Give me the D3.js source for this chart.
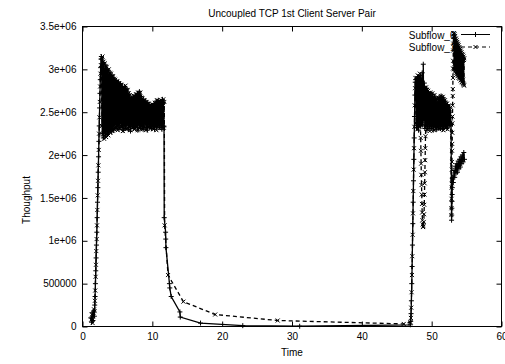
<!DOCTYPE html>
<html><head><meta charset="utf-8">
<script src="https://cdn.jsdelivr.net/npm/d3@7"></script>
<style>
html,body{margin:0;padding:0;background:#fff;}
svg{display:block;}
text{font-family:"Liberation Sans",Arial,Helvetica,sans-serif;font-size:10px;fill:#000;}
</style>
</head><body>
<svg id="chart" width="505" height="364"></svg>
<script>
// ---------------- DATA (throughput values in units of 10 000) ----------------
const valueUnit = 1e4;
const chartTitle = "Uncoupled TCP 1st Client Server Pair";
const xLabel = "Time";
const yLabel = "Thoughput";
const seriesNames = ["Subflow_0", "Subflow_1"];

const xTicks = [0, 10, 20, 30, 40, 50, 60];
const xTickLabels = ["0", "10", "20", "30", "40", "50", "60"];
const yTicks = [0, 500000, 1000000, 1500000, 2000000, 2500000, 3000000, 3500000];
const yTickLabels = ["0", "500000", "1e+06", "1.5e+06", "2e+06", "2.5e+06", "3e+06", "3.5e+06"];

// ---- Subflow_0 ----
const s0RiseTimes  = [1.2,1.3,1.4,1.5,1.6,1.7,1.75,1.8,1.85,1.9,1.95,2.0,2.05,2.1,2.15,2.2,2.25,2.3,2.35,2.4,2.45,2.5,2.55,2.6,2.65,2.7];
const s0RiseValues = [10,5,16,7,18,12,25,35,50,65,80,95,110,127,145,162,180,198,216,234,255,272,288,302,312,315];
// first busy period: alternating peaks and troughs every 0.075 s
const s0Band1Start = 2.75, s0Band1Step = 0.075;
const s0Band1Peaks = [312,307,308,301,304,300,299,294,296,290, 293,288,289,284,287,283,285,281,283,278,
  280,276,280,277,277,271,271,265,267,264, 268,266,270,268,272,270,274,268,268,263,
  265,261,263,259,261,257,259,255,258,256, 260,258,263,261,264,260,262,260,265,261];
const s0Band1Troughs = [225,220,228,222,230,224,226,229,232,227, 234,229,236,231,233,235,230,237,232,234,
  229,236,231,235,237,230,234,228,236,233, 231,238,232,235,229,237,234,231,236,230,
  233,238,232,229,235,233,237,231,235,234, 230,236,233,234,237,232,235,230,234,233];
const s0DecayTimes  = [11.7,11.9,11.92,11.95,12.45,12.5,12.7,13.95,14.0,16.9,22.95,31.1];
const s0DecayValues = [127,110,102,92,50,45,35,17,11,4,1,0.3];
const s0Rise2Times  = [46.95,47.0,47.05,47.1,47.15,47.2,47.25,47.3,47.35,47.4,47.45,47.5,47.55,47.6,47.65];
const s0Rise2Values = [2,6,15,30,50,70,95,120,145,170,195,220,245,270,285];
const s0Band2Start = 47.75, s0Band2Step = 0.075;
const s0Band2Peaks = [288,285,291,288,293,290,296,306,284,278, 278,272,273,268,272,267,271,266,268,261,
  265,261,267,264,269,265,267,262,263,258, 259,254,256,250];
const s0Band2Troughs = [232,238,229,236,234,236,235,240,231,234, 229,235,233,236,231,234,229,235,233,230,
  235,232,236,231,235,230,236,233,234,231, 236,234,235,237];
const s0AfterTimes  = [52.85,52.87,52.89,52.91,52.93,52.95,52.97,53.0,53.1,53.2,53.3,53.4,53.5,53.6,53.7,53.8,53.9,54.0,54.1,54.2,54.3,54.4,54.5,54.6,54.7];
const s0AfterValues = [124,130,138,146,154,162,168,174,168,182,174,187,179,190,180,193,184,195,186,198,190,200,192,203,195];

// ---- Subflow_1 ----
const s1RiseTimes  = [1.25,1.35,1.45,1.55,1.65,1.725,1.775,1.825,1.875,1.925,1.975,2.025,2.075,2.125,2.175,2.225,2.275,2.325,2.375,2.425,2.475,2.525,2.575,2.625,2.7];
const s1RiseValues = [8,14,4,12,20,18,30,42,58,72,88,102,118,136,153,170,188,206,225,244,262,280,295,305,290];
const s1Band1Start = 2.7875, s1Band1Step = 0.075;
const s1Band1Troughs = [234,224,219,227,221,229,223,231,226,232, 228,234,230,236,232,229,235,231,237,233,
  228,235,233,230,238,231,234,229,236,232, 234,230,238,233,229,236,231,234,235,230,
  233,237,229,234,232,236,231,233,237,230, 234,233,229,236,234,231,237,233,235,232];
const s1Band1Peaks = [315,309,307,304,303,299,300,296,295,292, 292,289,288,286,286,284,284,282,282,279,
  279,278,281,276,276,272,270,267,266,265, 269,267,271,269,273,271,273,267,266,264,
  264,262,262,260,260,258,258,257,259,258, 261,259,264,262,263,261,264,262,265,262];
const s1DecayTimes  = [11.76,12.25,14.45,19.0,27.95,46.0];
const s1DecayValues = [118,60,29,14,7,3];
const s1Rise2Times  = [46.97,47.025,47.075,47.125,47.175,47.225,47.275,47.325,47.375,47.425,47.475,47.525,47.575,47.625,47.675];
const s1Rise2Values = [5,10,22,40,60,82,107,132,158,183,208,233,258,278,290];
const s1Band2aStart = 47.7875, s1Band2aStep = 0.075;
const s1Band2aTroughs = [236,230,234,233,236];
const s1Band2aPeaks = [290,293,292,295];
const s1DipTimes  = [48.43,48.46,48.49,48.52,48.55,48.58,48.61,48.64,48.68,48.72,48.77,48.82,48.87,48.91,48.94,48.97,49.0,49.03,49.06,49.09,49.12,49.15];
const s1DipValues = [220,205,190,177,165,154,143,133,124,119,116,117,122,131,142,154,167,180,194,208,222,236];
const s1Band2bStart = 49.2, s1Band2bStep = 0.075;
const s1Band2bPeaks = [279,276,275,271,273,269,272,268,270,264, 266,262,267,264,269,266,268,263,264,260, 260,256,257,253];
const s1Band2bTroughs = [234,230,236,228,235,232,236,229,233,235, 231,236,230,235,233,236,229,235,232,234, 230,235,236,238];
const s1ClimbStart = 52.82, s1ClimbStep = 0.015;
const s1ClimbValues = [130,138,149,162,171,183,192,205,213,226,237,245,258,269,277,290,301,310,322,330,338,342];
const s1Band3Start = 53.17, s1Band3Step = 0.025;
const s1Band3Peaks = [342,338,341,335,339,333,336,331,334,329, 332,327,330,325,328,323,326,321,324,319,
  322,317,320,316,318,314,317,312,315,311, 313];
const s1Band3Troughs = [300,306,297,304,299,302,296,300,294,298, 292,297,295,290,296,293,289,294,291,287,
  292,288,285,290,286,284,288,283,282,281];

// ---------------- BUILD ----------------
const pairs = (ts, vs) => ts.map((t, i) => [t, vs[i] * valueUnit]);
const band = (start, step, vs) => vs.map((v, i) => [start + i * step, v * valueUnit]);
function zigzag(start, step, first, second) {
  const out = [];
  first.forEach((v, i) => {
    out.push([start + 2 * i * step, v * valueUnit]);
    if (i < second.length) out.push([start + (2 * i + 1) * step, second[i] * valueUnit]);
  });
  return out;
}

const series0 = [].concat(
  pairs(s0RiseTimes, s0RiseValues),
  zigzag(s0Band1Start, s0Band1Step, s0Band1Peaks, s0Band1Troughs),
  pairs(s0DecayTimes, s0DecayValues),
  pairs(s0Rise2Times, s0Rise2Values),
  zigzag(s0Band2Start, s0Band2Step, s0Band2Peaks, s0Band2Troughs),
  pairs(s0AfterTimes, s0AfterValues)
);
const series1 = [].concat(
  pairs(s1RiseTimes, s1RiseValues),
  zigzag(s1Band1Start, s1Band1Step, s1Band1Troughs, s1Band1Peaks),
  pairs(s1DecayTimes, s1DecayValues),
  pairs(s1Rise2Times, s1Rise2Values),
  zigzag(s1Band2aStart, s1Band2aStep, s1Band2aTroughs, s1Band2aPeaks),
  pairs(s1DipTimes, s1DipValues),
  zigzag(s1Band2bStart, s1Band2bStep, s1Band2bPeaks, s1Band2bTroughs),
  band(s1ClimbStart, s1ClimbStep, s1ClimbValues),
  zigzag(s1Band3Start, s1Band3Step, s1Band3Peaks, s1Band3Troughs)
);

const svg = d3.select("#chart");
const L = 82.5, R = 501.5, T = 26.5, B = 326.5;
const x = d3.scaleLinear().domain([0, 60]).range([L, R]);
const y = d3.scaleLinear().domain([0, 3500000]).range([B, T]);

// title & axis labels
svg.append("text").attr("x", 292).attr("y", 17).attr("text-anchor", "middle").text(chartTitle);
svg.append("text").attr("x", 292).attr("y", 356).attr("text-anchor", "middle").text(xLabel);
svg.append("text").attr("transform", "translate(29.5,200) rotate(-90)").attr("text-anchor", "middle").text(yLabel);

// axes (ticks inward, mirrored)
const styleAxis = g => {
  g.select(".domain").remove();
  g.selectAll(".tick line").attr("stroke", "#000");
  g.selectAll(".tick text").attr("fill", "#000").style("font-size", "10px")
    .style("font-family", '"Liberation Sans",Arial,sans-serif');
};
svg.append("g").attr("transform", `translate(0,${B})`)
  .call(d3.axisBottom(x).tickValues(xTicks).tickSize(-5).tickPadding(6).tickFormat((d, i) => xTickLabels[i]))
  .call(styleAxis);
svg.append("g").attr("transform", `translate(0,${T})`)
  .call(d3.axisTop(x).tickValues(xTicks).tickSize(-5).tickFormat(""))
  .call(styleAxis);
svg.append("g").attr("transform", `translate(${L},0)`)
  .call(d3.axisLeft(y).tickValues(yTicks).tickSize(-5).tickPadding(6).tickFormat((d, i) => yTickLabels[i]))
  .call(styleAxis);
svg.append("g").attr("transform", `translate(${R},0)`)
  .call(d3.axisRight(y).tickValues(yTicks).tickSize(-5).tickFormat(""))
  .call(styleAxis);

// frame
svg.append("rect").attr("x", L).attr("y", T).attr("width", R - L).attr("height", B - T)
  .attr("fill", "none").attr("stroke", "#000").attr("stroke-width", 1);

// legend text (drawn before the data, as in the reference)
const keyX = 455.5, keyRows = [38.5, 50.5], keySampleY = [34.5, 47];
seriesNames.forEach((n, i) => {
  svg.append("text").attr("x", keyX).attr("y", keyRows[i]).attr("text-anchor", "end").text(n);
});

const plusPath = "M-2.5,0H2.5M0,-2.5V2.5";
const crossPath = "M-2,-2L2,2M-2,2L2,-2";
const line = d3.line().x(d => x(d[0])).y(d => y(d[1]));

function drawSeries(data, dash, marker, idx) {
  const g = svg.append("g");
  g.append("path").datum(data).attr("d", line).attr("fill", "none")
    .attr("stroke", "#000").attr("stroke-width", 1.3).attr("stroke-dasharray", dash);
  g.selectAll("path.m").data(data).enter().append("path").attr("class", "m")
    .attr("d", marker).attr("transform", d => `translate(${x(d[0])},${y(d[1])})`)
    .attr("stroke", "#000").attr("stroke-width", 1).attr("fill", "none");
  const ky = keySampleY[idx];
  g.append("line").attr("x1", 461).attr("x2", 490).attr("y1", ky).attr("y2", ky)
    .attr("stroke", "#000").attr("stroke-width", 1).attr("stroke-dasharray", dash);
  g.append("path").attr("d", marker).attr("transform", `translate(475.5,${ky})`)
    .attr("stroke", "#000").attr("stroke-width", 1).attr("fill", "none");
}
drawSeries(series0, null, plusPath, 0);
drawSeries(series1, "4,3", crossPath, 1);
</script>
</body></html>
